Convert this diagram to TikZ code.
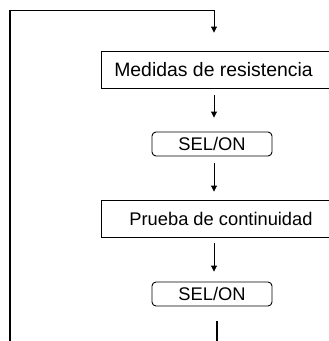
\documentclass[tikz,border=0pt]{standalone}
\usepackage{fontspec}
\setmainfont{Liberation Sans}
\usetikzlibrary{arrows.meta}

\tikzset{
  stepbox/.style={draw,line width=0.9pt,minimum width=233pt,minimum height=37pt,inner sep=0pt},
  keybox/.style={draw,line width=0.9pt,rounded corners=4pt,minimum width=120pt,minimum height=24pt,inner sep=0pt,font=\fontsize{18.3}{20}\selectfont},
  flow/.style={line width=0.9pt,-{Triangle[length=6pt,width=6pt]}},
  loopline/.style={line width=1.1pt}
}

\begin{document}
\begin{tikzpicture}[x=1pt,y=-1pt]
  \useasboundingbox (0,0) rectangle (329,341);
  % boxes
  \node[stepbox] (meas) at (217.5,69.5) {};
  \node[font=\fontsize{19.4}{21}\selectfont] (meastext) at (213.5,69.5) {Medidas de resistencia};
  \node[keybox] (sela) at (212,144) {SEL/ON};
  \node[stepbox] (cont) at (217.5,218.5) {};
  \node[font=\fontsize{18.3}{20}\selectfont] (conttext) at (221,218.5) {Prueba de continuidad};
  \node[keybox] (selb) at (212,294) {SEL/ON};
  \coordinate (loopin) at (10,341);
  \coordinate (looptop) at (10,10);
  \coordinate (axis) at (214,0);
  \coordinate (axisb) at (217,0);
  % connectors
  \draw[loopline] (loopin) -- (looptop);
  \draw[flow,shorten >=18pt] (looptop) -- (axis |- looptop) -- (axis |- meas.north);
  \draw[flow,shorten <=7pt,shorten >=14pt] (axis |- meas.south) -- (axis |- sela.north);
  \draw[flow,shorten <=7pt,shorten >=8pt] (axis |- sela.south) -- (axis |- cont.north);
  \draw[flow,shorten <=6pt,shorten >=10pt] (axis |- cont.south) -- (axis |- selb.north);
  \draw[loopline,shorten <=15pt] (axisb |- selb.south) -- (axisb |- loopin);
\end{tikzpicture}
\end{document}
